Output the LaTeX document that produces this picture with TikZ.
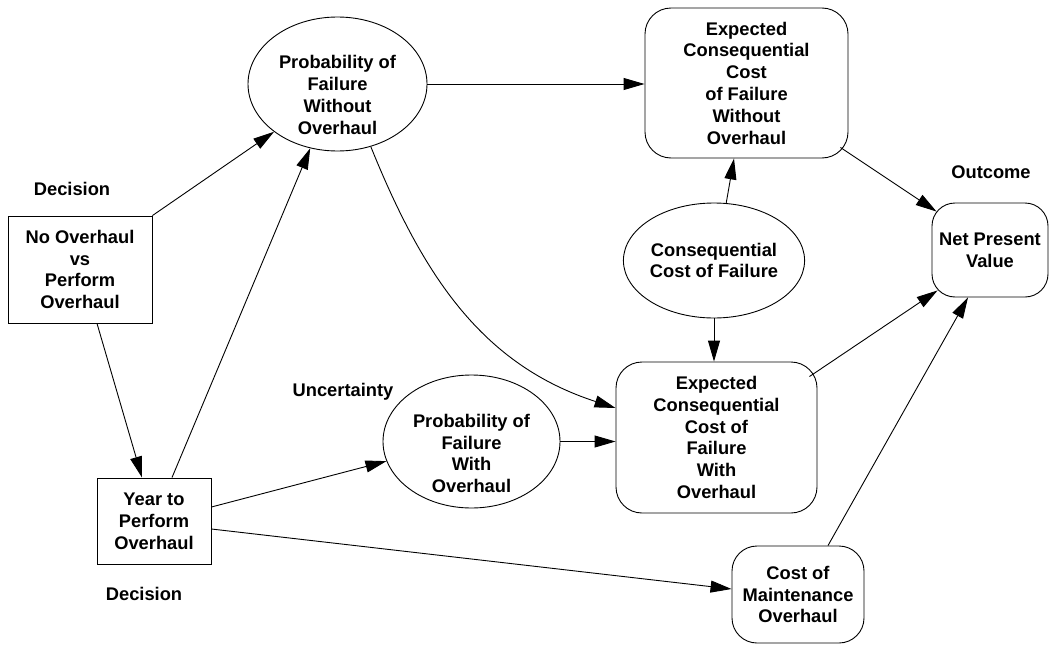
\documentclass[tikz,border=0pt]{standalone}
\usepackage{fontspec}
\setmainfont{Liberation Sans}
\usetikzlibrary{shapes.geometric,arrows.meta,calc}

\begin{document}
\begin{tikzpicture}[x=1pt,y=-1pt,
  every node/.style={font=\bfseries\fontsize{18.3}{21.8}\selectfont, align=center, inner sep=0pt},
  decbox/.style={draw, rectangle, line width=0.9pt},
  uncnode/.style={draw, ellipse, line width=0.9pt},
  valbox/.style={draw, rectangle, rounded corners=26pt, line width=0.9pt},
  conn/.style={line width=0.9pt, -{Triangle[length=21pt,width=12pt]}}]

  \fill[white] (0,0) rectangle (1050,645);
  \useasboundingbox (0,0) rectangle (1050,645);

  % decision nodes
  \node[decbox, minimum width=144pt, minimum height=107pt] (b1) at (80,269.5)
    {No Overhaul\\vs\\Perform\\Overhaul};
  \node[decbox, minimum width=114pt, minimum height=86pt] (b2) at (154,521)
    {Year to\\Perform\\Overhaul};

  % uncertainty nodes
  \node[uncnode, minimum width=179pt, minimum height=134pt,
        label={[yshift=-11pt]center:Probability of\\Failure\\Without\\Overhaul}] (e1) at (337.5,84) {};
  \node[uncnode, minimum width=177pt, minimum height=133pt,
        label={[yshift=-12pt]center:Probability of\\Failure\\With\\Overhaul}] (e2) at (471.5,441.5) {};
  \node[uncnode, minimum width=154pt, minimum height=115pt] (ccf) at (714,260.5)
    {Consequential\\Cost of Failure};

  % value nodes
  \node[valbox, minimum width=203pt, minimum height=150pt] (x1) at (746.5,83)
    {Expected\\Consequential\\Cost\\of Failure\\Without\\Overhaul};
  \node[valbox, minimum width=201pt, minimum height=151pt] (x2) at (716.5,437.5)
    {Expected\\Consequential\\Cost of\\Failure\\With\\Overhaul};
  \node[valbox, rounded corners=23pt, minimum width=116pt, minimum height=94pt] (npv) at (990,250)
    {Net Present\\Value};
  \node[valbox, rounded corners=25pt, minimum width=132pt, minimum height=97pt] (cm) at (798,594.5)
    {Cost of\\Maintenance\\Overhaul};

  % node type labels
  \node (lab1) at (72,189) {Decision};
  \node (lab2) at (144,594) {Decision};
  \node (lab3) at (343,392) {Uncertainty};
  \node (lab4) at (991,172) {Outcome};

  % influences
  \draw[conn] (b1.north east) -- (e1.217);
  \draw[conn] ([xshift=17pt]b1.south) -- ([xshift=-12pt]b2.north);
  \draw[conn] ([xshift=18pt]b2.north) -- (e1.247);
  \draw[conn] (e1.east) -- (e1.east -| x1.west);
  \draw[conn] (e1.-62.5) to[out=-68, in=162] ([yshift=29.5pt]x2.west);
  \draw[conn] (e2.east) -- (e2.east -| x2.west);
  \draw[conn] ([yshift=14pt]b2.east) -- (e2.193);
  \draw[conn] ([yshift=-8pt]b2.east) -- ([yshift=5.5pt]cm.west);
  \draw[conn] (ccf.78) -- ([xshift=-12.5pt]x1.south);
  \draw[conn] (ccf.south) -- (ccf.south |- x2.north);
  \draw[conn] ($(x1.south east)+(-8,-11)$) -- ($(npv.north west)+(5,9)$);
  \draw[conn] ($(x2.north east)+(-8,15)$) -- ($(npv.south west)+(6,-7)$);
  \draw[conn] ([xshift=30pt]cm.north) -- ([xshift=-22pt]npv.south);
\end{tikzpicture}
\end{document}
